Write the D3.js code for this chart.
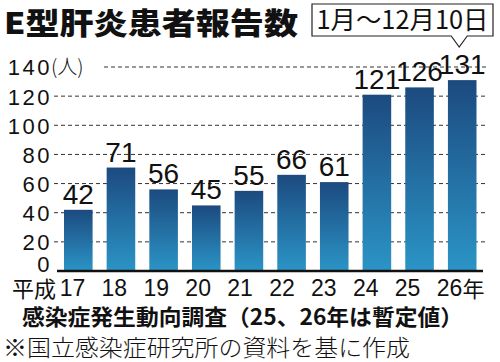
<!DOCTYPE html>
<html>
<head>
<meta charset="utf-8">
<script src="https://cdn.jsdelivr.net/npm/d3@7"></script>
<style>
  body { margin: 0; background: #fff; }
  svg text { font-family: "Noto Sans CJK JP", "Noto Sans", sans-serif; fill: #111; }
</style>
</head>
<body>
<div id="graph"></div>
<script>
// data
var years = ["17", "18", "19", "20", "21", "22", "23", "24", "25", "26"];
var counts = [42, 71, 56, 45, 55, 66, 61, 121, 126, 131];
var yTicks = [0, 20, 40, 60, 80, 100, 120, 140];
var title = "E型肝炎患者報告数";
var period = "1月～12月10日";
var source = "感染症発生動向調査（25、26年は暫定値）";
var note = "※国立感染症研究所の資料を基に作成";

var width = 500, height = 362;
var svg = d3.select("#graph").append("svg")
    .attr("width", width)
    .attr("height", height);

// bar gradient, dark on top, light at the bottom
var grad = svg.append("defs").append("linearGradient")
    .attr("id", "barGrad")
    .attr("x1", 0).attr("y1", 0).attr("x2", 0).attr("y2", 1);
grad.append("stop").attr("offset", "0%").attr("stop-color", "#1c4a7f");
grad.append("stop").attr("offset", "100%").attr("stop-color", "#2b94c6");

var x = d3.scaleBand()
    .domain(years)
    .range([64, 476.5])
    .paddingInner(0.33)
    .paddingOuter(0);
// year labels sit a bit tighter than the bars
var xLab = d3.scalePoint()
    .domain(years)
    .range([72.5, 449.5]);
var y = d3.scaleLinear()
    .domain([0, 140])
    .range([271, 67]);

// dashed grid
svg.append("g").selectAll("line")
    .data(yTicks.filter(function(d) { return d > 0; }))
    .enter().append("line")
    .attr("x1", function(d) { return d == 140 ? 104 : 54; })
    .attr("x2", 487)
    .attr("y1", function(d) { return y(d); })
    .attr("y2", function(d) { return y(d); })
    .attr("stroke", "#333")
    .attr("stroke-width", 1)
    .attr("stroke-dasharray", "4,3");

// y labels
var yAxis = svg.append("g")
    .attr("transform", "translate(52,0)")
    .call(d3.axisLeft(y).tickValues(yTicks).tickSize(0).tickPadding(0));
yAxis.select(".domain").remove();
yAxis.selectAll("text")
    .attr("x", 0)
    .attr("dy", function(d) { return d == 0 ? "0.02em" : "0.36em"; })
    .style("font-family", "'Liberation Sans', Arial, sans-serif")
    .style("font-size", "22px")
    .style("letter-spacing", "2.5px")
    .style("fill", "#111");
svg.append("text")
    .attr("x", 51).attr("y", y(140) + 7)
    .style("font-size", "20px")
    .style("font-weight", 300)
    .text("(人)");

// bars
svg.append("g").selectAll("rect")
    .data(counts)
    .enter().append("rect")
    .attr("x", function(d, i) { return x(years[i]); })
    .attr("y", function(d) { return y(d); })
    .attr("width", x.bandwidth())
    .attr("height", function(d) { return y(0) - y(d); })
    .style("fill", "url(#barGrad)");

// value labels
svg.append("g").selectAll("text")
    .data(counts)
    .enter().append("text")
    .attr("x", function(d, i) { return x(years[i]) + x.bandwidth() / 2; })
    .attr("y", function(d) { return y(d) - 6; })
    .attr("text-anchor", "middle")
    .style("font-family", "'Liberation Sans', Arial, sans-serif")
    .style("font-size", "28px")
    .text(function(d) { return d; });

// baseline
svg.append("line")
    .attr("x1", 57).attr("x2", 483)
    .attr("y1", y(0)).attr("y2", y(0))
    .attr("stroke", "#111")
    .attr("stroke-width", 2.5);

// year labels
svg.append("g").selectAll("text")
    .data(years)
    .enter().append("text")
    .attr("x", function(d) { return xLab(d); })
    .attr("y", 296)
    .attr("text-anchor", "middle")
    .style("font-family", "'Liberation Sans', Arial, sans-serif")
    .style("font-size", "23px")
    .text(function(d) { return d; });
svg.append("text")
    .attr("x", 12).attr("y", 297)
    .style("font-size", "22px")
    .text("平成");
svg.append("text")
    .attr("x", xLab("26") + 13).attr("y", 297)
    .style("font-size", "22px")
    .text("年");

// title
svg.append("text")
    .attr("x", 4).attr("y", 34)
    .attr("textLength", 294)
    .attr("lengthAdjust", "spacingAndGlyphs")
    .style("font-size", "30px")
    .style("font-weight", 900)
    .text(title);

// period box with a pointer to the last bar
var bx0 = 312, bx1 = 493, by0 = 4, by1 = 36;
var px = x("26") + x.bandwidth() / 2 - 3;
svg.append("path")
    .attr("d", "M" + bx0 + "," + by0 + "H" + bx1 + "V" + by1 +
        "H" + (px + 8) + "L" + px + "," + (by1 + 11) + "L" + (px - 8) + "," + by1 +
        "H" + bx0 + "Z")
    .attr("fill", "#fff")
    .attr("stroke", "#222")
    .attr("stroke-width", 1.2);
svg.append("text")
    .attr("x", (bx0 + bx1) / 2).attr("y", 29)
    .attr("text-anchor", "middle")
    .attr("textLength", 172)
    .attr("lengthAdjust", "spacingAndGlyphs")
    .style("font-size", "25px")
    .text(period);

// source lines
svg.append("text")
    .attr("x", 22).attr("y", 325)
    .attr("textLength", 441)
    .attr("lengthAdjust", "spacingAndGlyphs")
    .style("font-size", "22px")
    .style("font-weight", 700)
    .text(source);
svg.append("text")
    .attr("x", 3).attr("y", 356)
    .attr("textLength", 407)
    .attr("lengthAdjust", "spacingAndGlyphs")
    .style("font-size", "23px")
    .style("font-weight", 300)
    .text(note);
</script>
</body>
</html>
